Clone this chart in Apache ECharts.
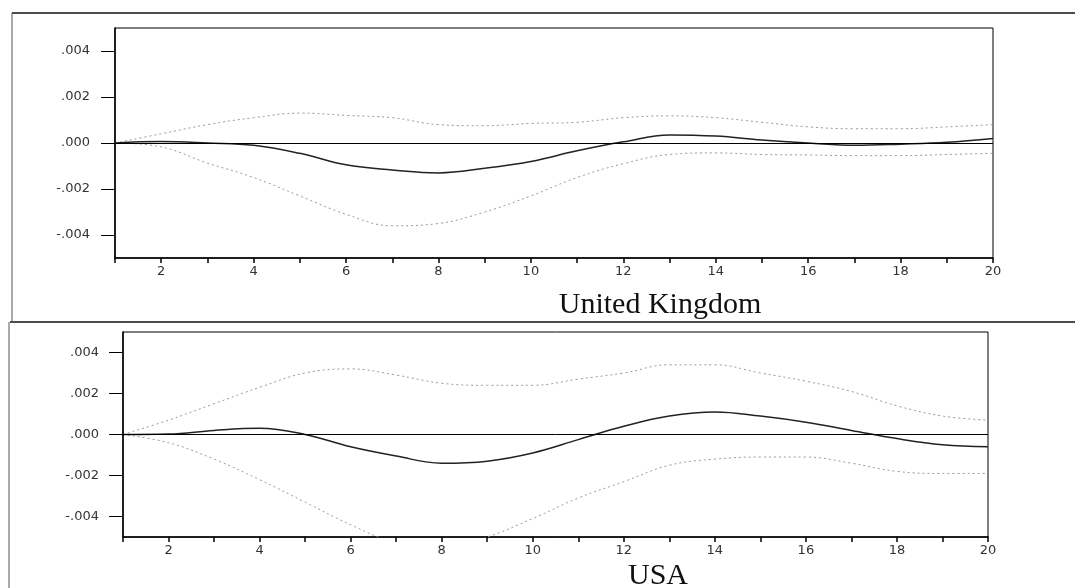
<!DOCTYPE html>
<html>
<head>
<meta charset="utf-8">
<script src="https://cdn.jsdelivr.net/npm/echarts@6/dist/echarts.min.js"></script>
<style>
  html, body { margin: 0; padding: 0; background: #fff; }
  #chart { width: 1075px; height: 588px; }
</style>
</head>
<body>
<div id="chart"></div>
<script>
// Impulse responses over 20 periods with +/- 2 S.E. bands
const periods = [1, 2, 3, 4, 5, 6, 7, 8, 9, 10, 11, 12, 13, 14, 15, 16, 17, 18, 19, 20];

const ukResponse = [0, 0.00006, 0.0, -0.0001, -0.00045, -0.00095, -0.00117, -0.0013, -0.0011, -0.0008,
                    -0.00034, 0.00005, 0.00035, 0.0003, 0.00013, 0.0, -0.0001, -0.00005, 0.00003, 0.0002];
const ukUpper = [0, 0.0004, 0.0008, 0.0011, 0.0013, 0.0012, 0.0011, 0.0008, 0.00075, 0.00085,
                 0.0009, 0.0011, 0.00118, 0.0011, 0.0009, 0.0007, 0.00062, 0.00062, 0.0007, 0.0008];
const ukLower = [0, -0.00017, -0.00087, -0.0015, -0.0023, -0.0031, -0.0036, -0.0035, -0.003, -0.0023,
                 -0.0015, -0.0009, -0.0005, -0.00043, -0.0005, -0.00052, -0.00055, -0.00055, -0.0005, -0.00045];

const usResponse = [0, 0.00002, 0.0002, 0.0003, 0.0, -0.0006, -0.00105, -0.0014, -0.0013, -0.0009,
                    -0.00025, 0.0004, 0.0009, 0.0011, 0.0009, 0.0006, 0.0002, -0.0002, -0.0005, -0.0006];
const usUpper = [0, 0.0007, 0.0015, 0.0023, 0.003, 0.0032, 0.0029, 0.0025, 0.0024, 0.0024,
                 0.0027, 0.003, 0.0034, 0.0034, 0.003, 0.0026, 0.0021, 0.0014, 0.0009, 0.0007];
const usLower = [0, -0.0004, -0.0012, -0.0022, -0.0033, -0.0044, -0.0053, -0.0056, -0.005, -0.0041,
                 -0.0031, -0.0023, -0.0015, -0.0012, -0.0011, -0.0011, -0.0014, -0.0018, -0.0019, -0.0019];

const yTicks = [-0.004, -0.002, 0, 0.002, 0.004];
const panelTitles = ['United Kingdom', 'USA'];

const pair = (ys) => periods.map((p, i) => [p, ys[i]]);

function fmtY(v) {
  const n = Math.round(Math.abs(v) * 1000);
  return (v < -1e-9 ? '-' : '') + '.' + String(n).padStart(3, '0');
}

const labelFont = { fontFamily: 'DejaVu Sans', fontSize: 13, color: '#333' };

function xAxisFor(gridIndex) {
  return {
    type: 'value', gridIndex, min: 1, max: 20, interval: 1,
    axisLine: { show: true, onZero: false, lineStyle: { color: '#000', width: 1.5 } },
    axisTick: { show: true, inside: false, length: 5, lineStyle: { color: '#000', width: 1.5 } },
    axisLabel: Object.assign({ margin: 7, formatter: v => (v % 2 === 0 ? String(v) : '') }, labelFont),
    splitLine: { show: false }
  };
}

function yAxisFor(gridIndex, margin) {
  return {
    type: 'value', gridIndex, min: -0.005, max: 0.005,
    axisLine: { show: true, lineStyle: { color: '#000', width: 1.5 } },
    axisTick: { show: true, inside: false, length: 14, customValues: yTicks, lineStyle: { color: '#000', width: 1 } },
    axisLabel: Object.assign({ margin, customValues: yTicks, formatter: fmtY }, labelFont),
    splitLine: { show: false }
  };
}

function bandSeries(name, idx, ys) {
  return {
    name, type: 'line', xAxisIndex: idx, yAxisIndex: idx, data: pair(ys),
    showSymbol: false, smooth: 0.4, clip: true, silent: true,
    lineStyle: { color: '#9a9a9a', width: 1, type: [2, 3] }
  };
}

function responseSeries(name, idx, ys) {
  return {
    name, type: 'line', xAxisIndex: idx, yAxisIndex: idx, data: pair(ys),
    showSymbol: false, smooth: 0.4, clip: true, silent: true,
    lineStyle: { color: '#222', width: 1.5 },
    markLine: {
      silent: true, symbol: 'none', label: { show: false },
      lineStyle: { color: '#000', width: 1, type: 'solid' },
      data: [{ yAxis: 0 }]
    }
  };
}

const chart = echarts.init(document.getElementById('chart'));
chart.setOption({
  animation: false,
  backgroundColor: '#fff',
  grid: [
    { left: 115, top: 28, width: 878, height: 230, show: true, borderColor: '#000', borderWidth: 1, backgroundColor: 'transparent' },
    { left: 123, top: 332, width: 865, height: 205, show: true, borderColor: '#000', borderWidth: 1, backgroundColor: 'transparent' }
  ],
  xAxis: [xAxisFor(0), xAxisFor(1)],
  yAxis: [yAxisFor(0, 25), yAxisFor(1, 24)],
  series: [
    bandSeries('UK upper', 0, ukUpper),
    bandSeries('UK lower', 0, ukLower),
    responseSeries('UK response', 0, ukResponse),
    bandSeries('USA upper', 1, usUpper),
    bandSeries('USA lower', 1, usLower),
    responseSeries('USA response', 1, usResponse)
  ],
  graphic: [
    // panel frame rules
    { type: 'line', shape: { x1: 12, y1: 13, x2: 1075, y2: 13 }, style: { stroke: '#111', lineWidth: 1.5 }, silent: true },
    { type: 'line', shape: { x1: 10, y1: 322, x2: 1075, y2: 322 }, style: { stroke: '#111', lineWidth: 1.5 }, silent: true },
    { type: 'line', shape: { x1: 12, y1: 13, x2: 12, y2: 322 }, style: { stroke: '#555', lineWidth: 1 }, silent: true },
    { type: 'line', shape: { x1: 9, y1: 322, x2: 9, y2: 588 }, style: { stroke: '#555', lineWidth: 1 }, silent: true },
    // panel captions
    { type: 'text', x: 660, y: 305, silent: true,
      style: { text: panelTitles[0], fontFamily: 'Liberation Serif', fontSize: 30, fill: '#111', align: 'center', verticalAlign: 'middle' } },
    { type: 'text', x: 658, y: 576, silent: true,
      style: { text: panelTitles[1], fontFamily: 'Liberation Serif', fontSize: 30, fill: '#111', align: 'center', verticalAlign: 'middle' } }
  ]
});
</script>
</body>
</html>
